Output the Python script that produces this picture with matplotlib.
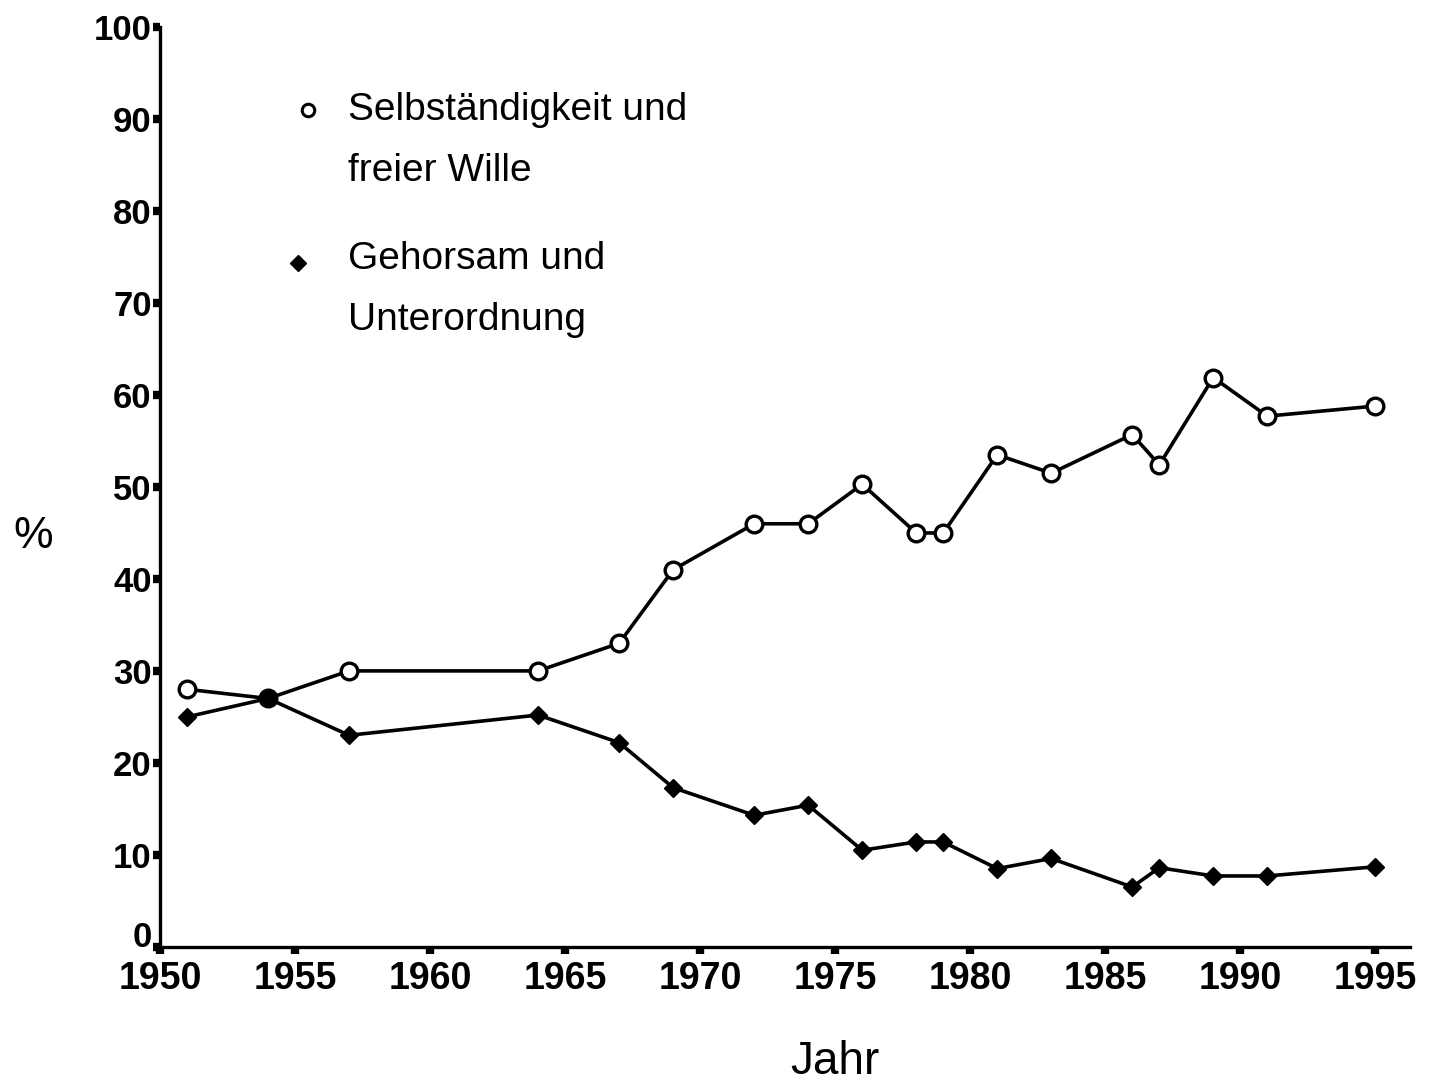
import matplotlib
matplotlib.use("Agg")
import matplotlib.pyplot as plt
import matplotlib.transforms as mtransforms

# Survey years and shares (%)
years = [1951, 1954, 1957, 1964, 1967, 1969, 1972, 1974, 1976, 1978, 1979,
         1981, 1983, 1986, 1987, 1989, 1991, 1995]
selbst = [28, 27, 30, 30, 33, 41, 46, 46, 50.3, 45, 45,
          53.5, 51.5, 55.7, 52.4, 61.9, 57.7, 58.8]
gehorsam = [25, 27, 23, 25.2, 22.2, 17.3, 14.3, 15.4, 10.5, 11.4, 11.4,
            8.5, 9.6, 6.5, 8.6, 7.7, 7.7, 8.7]

xticks = [1950, 1955, 1960, 1965, 1970, 1975, 1980, 1985, 1990, 1995]
yticks = [0, 10, 20, 30, 40, 50, 60, 70, 80, 90, 100]
label_selbst = "Selbständigkeit und\nfreier Wille"
label_gehorsam = "Gehorsam und\nUnterordnung"

plt.rcParams['font.family'] = ['Liberation Sans', 'DejaVu Sans']

fig = plt.figure(figsize=(14.29, 10.87), dpi=100)
ax = fig.add_axes([0.112, 0.129, 0.875, 0.846])

ax.plot(years, selbst, color='black', lw=2.6, marker='o', ms=12,
        mfc='white', mec='black', mew=2.4, zorder=3)
ax.plot(years, gehorsam, color='black', lw=2.6, marker='D', ms=9,
        mfc='black', mec='black', zorder=4)

ax.set_xlim(1950, 1996.3)
ax.set_ylim(0, 100)
ax.set_xticks(xticks)
ax.set_yticks(yticks)
ax.tick_params(axis='both', direction='out', length=5, width=6, color='black')
ax.tick_params(axis='y', pad=1, labelsize=25)
ax.tick_params(axis='x', pad=5, labelsize=27)
for lab in ax.get_xticklabels() + ax.get_yticklabels():
    lab.set_fontweight('bold')

# the "0" sits a little above the axis in the original
zero = ax.yaxis.get_major_ticks()[0].label1
zero.set_transform(zero.get_transform() +
                   mtransforms.ScaledTranslation(0, 13 / 100, fig.dpi_scale_trans))

for side in ['top', 'right']:
    ax.spines[side].set_visible(False)
for side in ['left', 'bottom']:
    ax.spines[side].set_linewidth(2.4)

# hand-drawn style legend
ax.plot([0.118], [0.910], transform=ax.transAxes, marker='o', ms=9,
        mfc='white', mec='black', mew=2.2, clip_on=False)
ax.text(0.150, 0.877, label_selbst, transform=ax.transAxes, fontsize=28,
        va='center', ha='left', linespacing=1.9)
ax.plot([0.110], [0.7435], transform=ax.transAxes, marker='D', ms=8,
        color='black', clip_on=False)
ax.text(0.150, 0.715, label_gehorsam, transform=ax.transAxes, fontsize=28,
        va='center', ha='left', linespacing=1.9)

fig.text(33 / 1429, 1 - 537 / 1087, "%", fontsize=32, ha='center', va='center')
fig.text(835 / 1429, 1 - 1062 / 1087, "Jahr", fontsize=33, ha='center', va='center')

fig.savefig("out.png", dpi=100)
